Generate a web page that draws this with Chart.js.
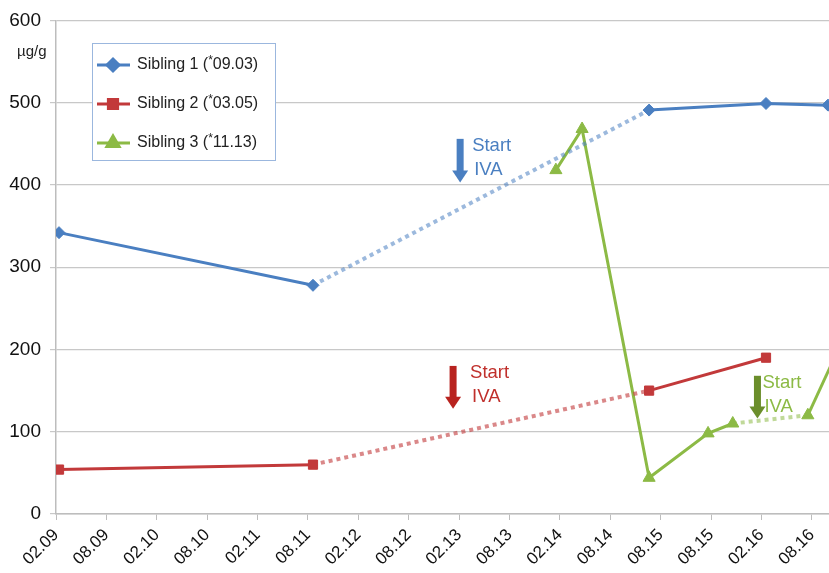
<!DOCTYPE html>
<html>
<head>
<meta charset="utf-8">
<script src="https://cdn.jsdelivr.net/npm/chart.js@4/dist/chart.umd.min.js"></script>
<style>
  html, body { margin: 0; padding: 0; background: #fff; overflow: hidden; }
  canvas { display: block; }
</style>
</head>
<body>
<canvas id="ironChart" width="829" height="573"></canvas>
<script>
// x positions are in label steps (0 = 02.09, 1 = 08.09, ...)
const xLabels = ['02.09', '08.09', '02.10', '08.10', '02.11', '08.11', '02.12', '08.12',
                 '02.13', '08.13', '02.14', '08.14', '08.15', '08.15', '02.16', '08.16'];
const yTicks = [0, 100, 200, 300, 400, 500, 600];

const sib1X = [0.06, 5.1, 11.77, 14.09, 15.32];
const sib1Y = [342, 278, 491, 499, 497];
const sib2X = [0.06, 5.1, 11.77, 14.09];
const sib2Y = [54, 60, 150, 190];
const sib3X = [9.92, 10.44, 11.77, 12.94, 13.43, 14.92, 15.6];
const sib3Y = [418, 468, 44, 98, 110, 120, 210];

// segments before therapy is documented are drawn dotted
const sib1Dotted = [1];
const sib2Dotted = [1];
const sib3Dotted = [4];

const seriesNames = ['Sibling 1 (', 'Sibling 2 (', 'Sibling 3 ('];
const seriesDates = ['09.03)', '03.05)', '11.13)'];

const blue = '#4a7fc1', red = '#c2393a', green = '#8cba45';
const fonts = '"Liberation Sans", Arial, sans-serif';

function pts(xs, ys) {
    return xs.map((x, i) => ({ x: x, y: ys[i] }));
}

function makeSet(label, xs, ys, color, lightColor, dotted, style, radius) {
    return {
        label: label,
        data: pts(xs, ys),
        borderColor: color,
        backgroundColor: color,
        borderWidth: 3,
        pointStyle: style,
        pointRadius: radius,
        pointHoverRadius: radius,
        pointBorderWidth: 1,
        tension: 0,
        segment: {
            borderDash: ctx => dotted.includes(ctx.p0DataIndex) ? [4, 4] : undefined,
            borderWidth: ctx => dotted.includes(ctx.p0DataIndex) ? 4 : undefined,
            borderColor: ctx => dotted.includes(ctx.p0DataIndex) ? lightColor : undefined
        }
    };
}

// arrows + "Start IVA" notes, in data coordinates: x, yTop, yBottom
const arrows = [
    { x: 8.02, top: 456, bottom: 403, arrow: '#4a7fc1', text: '#4a7fc1', dx: 12 },
    { x: 7.88, top: 180, bottom: 128, arrow: '#b8231f', text: '#c0302c', dx: 17 },
    { x: 13.92, top: 168, bottom: 116, arrow: '#6b8e2b', text: '#8cba45', dx: 5 }
];

const extras = {
    id: 'extras',
    afterDatasetsDraw(chart) {
        const c = chart.ctx;
        const xs = chart.scales.x, ys = chart.scales.y;
        c.save();
        // unit
        c.fillStyle = '#222';
        c.font = '15px ' + fonts;
        c.textAlign = 'left';
        c.textBaseline = 'middle';
        c.fillText('\u00b5g/g', 17, 52);

        // arrows
        arrows.forEach(a => {
            const px = xs.getPixelForValue(a.x);
            const t = ys.getPixelForValue(a.top);
            const b = ys.getPixelForValue(a.bottom);
            c.fillStyle = a.arrow;
            c.fillRect(px - 3.5, t, 7, b - t - 11);
            c.beginPath();
            c.moveTo(px - 8, b - 12);
            c.lineTo(px + 8, b - 12);
            c.lineTo(px, b);
            c.closePath();
            c.fill();
            c.fillStyle = a.text;
            c.font = '18.5px ' + fonts;
            c.textBaseline = 'alphabetic';
            c.fillText('Start', px + a.dx, t + 12);
            c.fillText('IVA', px + a.dx + 2, t + 36);
        });

        // legend box
        c.fillStyle = '#fff';
        c.fillRect(92, 43, 183, 117);
        c.strokeStyle = '#9bb7de';
        c.lineWidth = 1;
        c.strokeRect(92.5, 43.5, 183, 117);
        chart.data.datasets.forEach((ds, i) => {
            const y = 65 + i * 39;
            c.strokeStyle = ds.borderColor;
            c.lineWidth = 3;
            c.setLineDash([]);
            c.beginPath();
            c.moveTo(97, y);
            c.lineTo(130, y);
            c.stroke();
            c.fillStyle = ds.borderColor;
            Chart.helpers.drawPoint(c, {
                pointStyle: ds.pointStyle, radius: ds.pointRadius, borderWidth: 1
            }, 113, y);
            c.fillStyle = '#222';
            c.font = '16px ' + fonts;
            c.textBaseline = 'middle';
            let tx = 137;
            c.fillText(seriesNames[i], tx, y);
            tx += c.measureText(seriesNames[i]).width;
            c.font = '12px ' + fonts;
            c.fillText('*', tx, y - 4);
            tx += c.measureText('*').width;
            c.font = '16px ' + fonts;
            c.fillText(seriesDates[i], tx, y);
        });
        c.restore();
    }
};

new Chart(document.getElementById('ironChart'), {
    type: 'line',
    data: {
        datasets: [
            makeSet('Sibling 1', sib1X, sib1Y, blue, 'rgba(74,127,193,0.55)', sib1Dotted, 'rectRot', 6),
            makeSet('Sibling 2', sib2X, sib2Y, red, 'rgba(194,57,58,0.6)', sib2Dotted, 'rect', 6.5),
            makeSet('Sibling 3', sib3X, sib3Y, green, 'rgba(140,186,69,0.55)', sib3Dotted, 'triangle', 7)
        ]
    },
    options: {
        responsive: false,
        animation: false,
        layout: { autoPadding: false, padding: { top: 18, right: 0, left: 0, bottom: 0 } },
        plugins: { legend: { display: false }, tooltip: { enabled: false } },
        scales: {
            x: {
                type: 'linear',
                min: 0,
                max: 15.34,
                afterBuildTicks: scale => { scale.ticks = xLabels.map((l, i) => ({ value: i })); },
                afterFit: scale => { scale.height = 59; scale.paddingRight = 0; },
                ticks: {
                    callback: v => xLabels[v],
                    minRotation: 45,
                    maxRotation: 45,
                    autoSkip: false,
                    color: '#111',
                    font: { family: fonts, size: 17 },
                    padding: 5
                },
                grid: { drawOnChartArea: false, drawTicks: true, tickLength: 6, color: '#bdbdbd' },
                border: { color: '#bdbdbd', width: 1.5 }
            },
            y: {
                min: 0,
                max: 600,
                afterBuildTicks: scale => { scale.ticks = yTicks.map(v => ({ value: v })); },
                afterFit: scale => { scale.width = 56; },
                ticks: {
                    color: '#111',
                    font: { family: fonts, size: 19 },
                    padding: 9
                },
                grid: { color: '#c8c8c8', lineWidth: 1.2, tickLength: 6 },
                border: { color: '#bdbdbd', width: 1.5 }
            }
        }
    },
    plugins: [extras]
});
</script>
</body>
</html>
